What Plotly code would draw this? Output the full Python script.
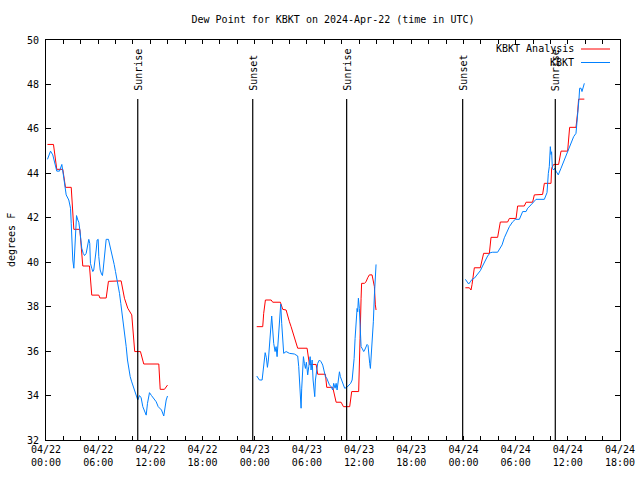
import pandas as pd
import plotly.graph_objects as go

BASE = pd.Timestamp("2024-04-22 00:00")
TITLE = "Dew Point for KBKT on 2024-Apr-22 (time in UTC)"
Y_TITLE = "degrees F"
NAME_ANA = "KBKT Analysis"
NAME_OBS = "KBKT"

# ---- KBKT Analysis (hours after 2024-04-22 00:00 UTC, deg F) ----
ana_h_1 = [0.17, 0.86, 1.24, 1.93, 2.24, 2.9, 3.2, 3.89, 4.23, 5.0, 5.26, 6.07, 6.2, 6.92,
           7.18, 8.64, 9.02, 9.4, 9.86, 9.98, 10.2, 10.86, 11.24, 12.97, 13.13, 13.62, 13.97]
ana_v_1 = [45.3, 45.3, 44.18, 44.18, 43.37, 43.37, 41.48, 41.48, 39.83, 39.83, 38.52, 38.52, 38.39, 38.39,
           39.14, 39.16, 38.38, 37.93, 37.63, 37.03, 35.98, 35.98, 35.42, 35.42, 34.28, 34.28, 34.47]
ana_h_2 = [24.23, 24.92, 25.03, 25.23, 25.89, 26.07, 26.95, 27.22, 27.61, 27.79, 27.99, 28.18, 28.37,
           28.56, 28.76, 28.94, 30.02, 30.17, 30.29, 31.06, 31.24, 32.13, 32.28, 32.97, 33.16, 33.36,
           33.93, 34.2, 34.92, 35.15, 35.95, 36.03, 36.11, 36.23, 36.29, 36.61, 36.8, 36.99, 37.18,
           37.49, 37.76, 37.87, 37.95]
ana_v_2 = [37.1, 37.1, 37.7, 38.3, 38.3, 38.2, 38.2, 37.88, 37.85, 37.55, 37.32, 37.1, 36.87,
           36.65, 36.42, 36.13, 36.13, 35.67, 35.4, 35.4, 34.96, 34.96, 34.37, 34.37, 34.03, 33.7,
           33.7, 33.5, 33.5, 34.18, 34.18, 35.07, 36.57, 38.38, 39.05, 39.05, 39.12, 39.3, 39.43,
           39.43, 38.9, 38.08, 37.85]
ana_h_3 = [48.22, 48.68, 48.87, 48.99, 49.25, 49.94, 50.14, 50.32, 50.98, 51.17, 51.93, 52.13, 52.24,
           53.08, 53.28, 54.05, 54.23, 55.0, 55.2, 55.95, 56.15, 57.1, 57.3, 58.07, 58.14, 58.37,
           58.94, 59.22, 59.98, 60.21, 60.94, 61.13, 61.24, 61.9]
ana_v_3 = [38.85, 38.85, 38.75, 39.0, 39.75, 39.75, 40.1, 40.4, 40.4, 41.12, 41.12, 41.6, 41.81,
           41.81, 41.97, 41.97, 42.53, 42.53, 42.7, 42.7, 43.03, 43.05, 43.55, 43.55, 44.23, 44.4,
           44.4, 45.0, 45.0, 46.07, 46.07, 46.75, 47.34, 47.34]

# ---- KBKT observations ----
obs_h_1 = [0.17, 0.52, 0.78, 0.98, 1.24, 1.55, 1.82, 2.05, 2.24, 2.32, 2.62, 2.82, 2.9, 2.97, 3.08,
           3.2, 3.39, 3.51, 3.66, 3.77, 3.89, 4.0, 4.11, 4.28, 4.43, 4.62, 4.8, 4.92, 5.03, 5.11,
           5.26, 5.38, 5.49, 5.61, 5.77, 5.88, 6.0, 6.07, 6.23, 6.38, 6.49, 6.57, 6.69, 6.8, 6.92,
           7.18, 7.33, 7.53, 7.68, 7.84, 7.99, 8.14, 8.3, 8.45, 8.6, 8.76, 8.91, 9.06, 9.22, 9.37,
           9.52, 9.68, 9.83, 9.98, 10.17, 10.37, 10.48, 10.55, 10.75, 10.94, 11.13, 11.4, 11.52,
           11.67, 11.9, 12.13, 12.36, 12.67, 12.9, 13.28, 13.54, 13.7, 13.82, 13.97]
obs_v_1 = [44.63, 45.0, 44.83, 44.45, 44.1, 44.1, 44.4, 43.78, 43.33, 43.03, 42.8, 42.43, 41.75, 41.0, 40.1,
           39.73, 41.6, 42.1, 41.9, 41.8, 41.45, 40.85, 40.63, 40.4, 40.3, 40.4, 40.85, 41.03, 40.85, 39.95,
           39.73, 39.58, 39.65, 39.95, 40.55, 41.0, 41.03, 40.25, 39.65, 39.47, 39.4, 39.65, 40.25, 40.85, 41.03,
           41.03, 40.8, 40.4, 40.18, 39.9, 39.58, 39.28, 38.9, 38.6, 38.15, 37.7, 37.25, 36.65, 36.2, 35.6,
           35.15, 34.85, 34.65, 34.47, 34.33, 34.1, 33.95, 33.8, 34.0, 33.9, 33.5, 33.28, 33.12,
           33.65, 34.13, 34.0, 33.88, 33.72, 33.5, 33.35, 33.08, 33.5, 33.8, 33.98]
obs_h_2 = [24.23, 24.54, 24.85, 25.0, 25.2, 25.34, 25.46, 25.57, 25.69, 25.8, 25.95, 26.07, 26.18, 26.34,
           26.46, 26.57, 26.72, 26.87, 26.99, 27.1, 27.22, 27.33, 27.61, 27.99, 28.56, 28.94, 29.06,
           29.17, 29.25, 29.33, 29.4, 29.48, 29.6, 29.71, 29.83, 29.94, 30.09, 30.21, 30.37, 30.48,
           30.6, 30.71, 30.83, 30.9, 30.98, 31.09, 31.24, 31.44, 31.63, 31.82, 31.98, 32.13, 32.28,
           32.44, 32.59, 32.78, 32.97, 33.08, 33.24, 33.36, 33.47, 33.62, 33.74, 33.85, 34.0, 34.2,
           34.34, 34.57, 34.8, 35.03, 35.2, 35.31, 35.43, 35.54, 35.66, 35.77, 35.84, 35.92, 36.03,
           36.11, 36.23, 36.38, 36.53, 36.64, 36.8, 36.92, 37.03, 37.1, 37.22, 37.3, 37.41, 37.53,
           37.64, 37.76, 37.84, 37.95]
obs_v_2 = [34.88, 34.7, 34.7, 35.3, 35.93, 35.7, 35.27, 35.6, 36.2, 36.8, 37.58, 36.95, 36.35, 35.98,
           36.2, 35.75, 36.8, 37.7, 38.12, 37.25, 36.35, 35.9, 35.98, 35.9, 35.87, 35.78, 35.3,
           34.55, 33.88, 33.43, 34.3, 35.15, 35.75, 35.45, 35.22, 35.5, 34.93, 35.3, 35.75, 35.15,
           35.6, 34.7, 34.2, 33.95, 34.7, 35.15, 35.45, 35.6, 35.52, 35.37, 35.15, 34.85, 34.78,
           34.63, 34.48, 34.4, 34.25, 34.55, 34.33, 34.55, 34.25, 34.7, 35.07, 34.85, 34.7, 34.55,
           34.33, 34.36, 34.45, 34.55, 34.7, 35.07, 35.67, 36.57, 37.32, 37.92, 37.77, 38.38, 37.92,
           36.73, 36.2, 36.1, 35.98, 36.05, 36.2, 36.3, 36.25, 35.82, 35.45, 35.22, 35.82, 36.65,
           37.32, 38.52, 39.27, 39.9]
obs_h_3 = [48.22, 48.41, 48.6, 48.79, 48.99, 49.25, 49.63, 49.94, 50.2, 50.52, 50.78, 51.09, 51.36,
           51.93, 52.13, 52.44, 52.7, 52.97, 53.28, 53.66, 53.97, 54.43, 54.62, 54.81, 55.2, 55.38,
           55.77, 56.15, 56.34, 57.3, 57.61, 57.76, 57.87, 57.99, 58.07, 58.14, 58.22, 58.37, 58.49,
           58.64, 58.9, 59.22, 59.52, 59.8, 60.06, 60.37, 60.67, 60.94, 61.01, 61.13, 61.21, 61.29,
           61.36, 61.52, 61.63, 61.72, 61.84, 61.9]
obs_v_3 = [39.23, 39.1, 39.02, 39.12, 39.23, 39.28, 39.45, 39.62, 39.83, 40.1, 40.28, 40.43, 40.45,
           40.45, 40.58, 40.78, 41.1, 41.37, 41.6, 41.82, 41.93, 41.93, 42.13, 42.28, 42.28, 42.43,
           42.58, 42.73, 42.83, 42.83, 43.13, 44.0, 44.3, 45.2, 44.85, 44.97, 44.23, 44.15, 44.23,
           44.1, 43.93, 44.23, 44.53, 44.83, 45.13, 45.35, 45.65, 45.8, 46.1, 46.4, 46.78, 47.38,
           47.83, 47.83, 47.68, 47.83, 47.9, 48.05]

# ---- sun events (hours after 2024-04-22 00:00 UTC) ----
sun_h = [10.55, 23.77, 34.57, 47.91, 58.56]
sun_labels = ["Sunrise", "Sunset", "Sunrise", "Sunset", "Sunrise"]

x_range_h = [0, 66]
y_range = [32, 50]


def to_time(hours):
    return [BASE + pd.Timedelta(hours=h) for h in hours]


def join(*segments):
    out = []
    for i, s in enumerate(segments):
        if i:
            out.append(None)
        out.extend(s)
    return out


FONT = "DejaVu Sans Mono"
RED = "#ff0000"
BLUE = "#0080ff"

fig = go.Figure()
fig.add_trace(go.Scatter(
    x=join(to_time(ana_h_1), to_time(ana_h_2), to_time(ana_h_3)),
    y=join(ana_v_1, ana_v_2, ana_v_3),
    mode="lines", name=NAME_ANA, line=dict(color=RED, width=1), showlegend=False))
fig.add_trace(go.Scatter(
    x=join(to_time(obs_h_1), to_time(obs_h_2), to_time(obs_h_3)),
    y=join(obs_v_1, obs_v_2, obs_v_3),
    mode="lines", name=NAME_OBS, line=dict(color=BLUE, width=1), showlegend=False))

# page layout (page body margin removed by post_script below)
W, H = 640, 480
PL, PR, PT, PB = 46, 620, 40, 440          # plot area in page pixels
L, T = PL, PT
pw, ph = PR - PL, PB - PT
R, B = W - L - pw, H - T - ph

def px_to_paper_x(px):
    return (px - PL) / pw

def px_to_paper_y(py):
    return (PB - py) / ph

def px_to_val(py):
    return y_range[0] + (PB - py) / ph * (y_range[1] - y_range[0])

shapes = []
annotations = []
for t, lab in zip(to_time(sun_h), sun_labels):
    shapes.append(dict(type="line", xref="x", yref="y", x0=t, x1=t,
                       y0=y_range[0], y1=px_to_val(99), line=dict(color="black", width=1.2)))
    annotations.append(dict(x=t, y=px_to_val(92), xref="x", yref="y", text=lab, textangle=-90,
                            showarrow=False, xanchor="center", yanchor="bottom",
                            font=dict(family=FONT, size=10, color="black"), borderpad=0))

# legend (text right, line sample to the right as in the original)
for name, color, py in [(NAME_ANA, RED, 49), (NAME_OBS, BLUE, 62.5)]:
    annotations.append(dict(x=px_to_paper_x(575), y=px_to_paper_y(py), xref="paper", yref="paper",
                            text=name, showarrow=False, xanchor="right", yanchor="middle",
                            font=dict(family=FONT, size=10, color="black"), borderpad=0))
    shapes.append(dict(type="line", xref="paper", yref="paper",
                       x0=px_to_paper_x(581), x1=px_to_paper_x(610),
                       y0=px_to_paper_y(py), y1=px_to_paper_y(py), line=dict(color=color, width=1)))

annotations.append(dict(x=px_to_paper_x(11), y=0.5, xref="paper", yref="paper", text=Y_TITLE,
                        textangle=-90, showarrow=False, xanchor="center", yanchor="middle",
                        font=dict(family=FONT, size=10, color="black"), borderpad=0))

fig.update_layout(
    width=W, height=H,
    margin=dict(l=L, r=R, t=T, b=B, autoexpand=False),
    paper_bgcolor="white", plot_bgcolor="white",
    font=dict(family=FONT, size=10, color="black"),
    title=dict(text=TITLE, x=(L + pw / 2) / W, xanchor="center", y=1 - 19 / H, yanchor="middle",
               font=dict(family=FONT, size=10, color="black")),
    shapes=shapes, annotations=annotations, showlegend=False, hovermode=False,
)
fig.update_xaxes(
    type="date", range=to_time(x_range_h), automargin=False,
    tick0=BASE, dtick=6 * 3600 * 1000, tickformat="%m/%d<br>%H:%M",
    ticks="inside", ticklen=4, tickcolor="black",
    minor=dict(dtick=2 * 3600 * 1000, ticks="inside", ticklen=4, tickcolor="black"),
    showline=True, linecolor="black", linewidth=1, mirror="allticks",
    showgrid=False, zeroline=False,
    tickfont=dict(family=FONT, size=10, color="black"),
)
fig.update_yaxes(
    range=y_range, dtick=2, tick0=32, automargin=False,
    ticks="inside", ticklen=5, tickcolor="black",
    showline=True, linecolor="black", linewidth=1, mirror="ticks",
    showgrid=False, zeroline=False, ticklabelstandoff=4,
    tickfont=dict(family=FONT, size=10, color="black"),
)

fig.write_html("out.html", config={"displayModeBar": False},
               post_script="document.body.style.margin='0px';")
